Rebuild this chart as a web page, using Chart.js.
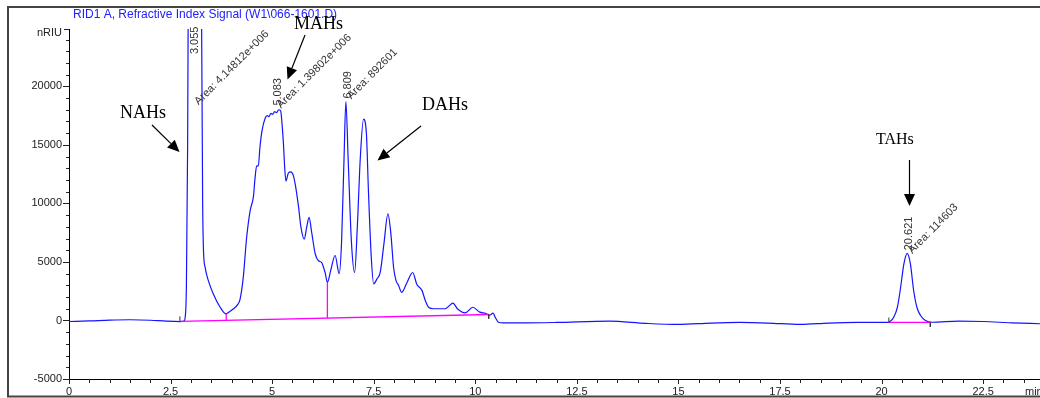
<!DOCTYPE html>
<html>
<head>
<meta charset="utf-8">
<script src="https://cdn.jsdelivr.net/npm/chart.js@4.4.1/dist/chart.umd.min.js"></script>
<style>
  html, body { margin: 0; padding: 0; background: #fff; }
  #wrap { width: 1040px; height: 398px; position: relative; }
</style>
</head>
<body>
<div id="wrap"><canvas id="chrom"></canvas></div>
<script>
// RID signal (min, nRIU)
const retentionTimes = [
  0.00, 0.5, 1.0, 1.5, 2.0, 2.4, 2.75, 2.83, 2.86, 2.89, 2.92, 2.95, 3.00, 3.055,
  3.12, 3.20, 3.26, 3.29, 3.31, 3.35, 3.43, 3.55, 3.72, 3.86, 3.95, 4.05, 4.15, 4.21,
  4.29, 4.37, 4.46, 4.54, 4.58, 4.62, 4.66, 4.70, 4.75, 4.83, 4.88, 4.92, 4.97, 5.01,
  5.06, 5.11, 5.16, 5.21, 5.25, 5.28, 5.31, 5.34, 5.40, 5.46, 5.52, 5.57, 5.65, 5.71,
  5.79, 5.85, 5.91, 5.97, 6.06, 6.14, 6.22, 6.31, 6.36, 6.44, 6.55, 6.65, 6.71, 6.77,
  6.815, 6.87, 6.95, 7.03, 7.10, 7.17, 7.25, 7.32, 7.37, 7.44, 7.50, 7.58, 7.66, 7.75,
  7.85, 7.92, 7.99, 8.05, 8.11, 8.19, 8.32, 8.46, 8.56, 8.69, 8.77, 8.85, 8.97, 9.26,
  9.34, 9.45, 9.56, 9.75, 9.94, 10.11, 10.25, 10.35, 10.44, 10.49, 10.57, 10.70, 11.1, 12.0,
  13.3, 14.2, 15.0, 15.8, 16.5, 17.2, 18.0, 18.7, 19.4, 20.15, 20.22, 20.30, 20.39, 20.47,
  20.55, 20.63, 20.71, 20.79, 20.87, 20.96, 21.08, 21.25, 21.9, 22.5, 23.2, 23.9
];
const signal = [
  -90, -40, 30, 60, 20, -60, -90, -60, 300, 3000, 15000, 40000, 100000, 140000,
  100000, 55000, 28000, 10000, 6000, 4550, 3400, 2280, 1130, 570, 750, 1000, 1350, 1800,
  3700, 7000, 9400, 10600, 12200, 13200, 13200, 14800, 16200, 17300, 17500, 17400, 17700, 17600,
  17850, 17750, 18000, 17900, 16500, 15000, 13000, 11900, 12600, 12700, 12400, 11600, 9700, 7950,
  6950, 7950, 8800, 7600, 5700, 5100, 4950, 4000, 3250, 4250, 5550, 4000, 6800, 13900,
  18700, 13900, 6800, 4100, 8250, 13900, 17200, 16000, 11100, 5400, 3130, 3550, 4100, 6500,
  9100, 7500, 4500, 3400, 3000, 2400, 3250, 4100, 3100, 2550, 1700, 1130, 1000, 1000,
  1200, 1480, 1000, 650, 1130, 710, 620, 450, 620, 280, -150, -200, -210, -170,
  -60, -250, -340, -220, -170, -220, -340, -220, -170, -170, -50, 280, 1130, 2840,
  4830, 5740, 4830, 2560, 1130, 430, 0, -150, -60, -90, -200, -280
];

// integration baselines and drop lines
const baseline1 = [[2.73, -85], [10.33, 510]];
const baseline2 = [[20.18, -170], [21.2, -170]];
const dropLine1 = [[3.87, 4], [3.87, 570]];
const dropLine2 = [[6.36, 200], [6.36, 3250]];
// peak start/end markers
const markerTimes = [2.73, 10.33, 20.18, 21.2];
const markerFrom = [-85, 510, -170, -170];
const markerTo = [350, 150, 250, -550];

// peak annotations
const peakTimes = [3.055, 5.083, 6.809, 20.621];
const peakAreas = ['4.14812e+006', '1.39802e+006', '892601', '114603'];
const timeLabelLevel = [22500, 18100, 18700, 5740];
const areaLabelLevel = [18300, 18000, 18800, 5600];

const xTicks = [0, 2.5, 5, 7.5, 10, 12.5, 15, 17.5, 20, 22.5];
const yTicks = [-5000, 0, 5000, 10000, 15000, 20000];

function pts(arr) { return arr.map(p => ({x: p[0], y: p[1]})); }

const traceData = retentionTimes.map((t, i) => ({x: t, y: signal[i]}));

const datasets = [
  {data: pts(baseline1), borderColor: '#ff00ff', borderWidth: 1.3, order: 1},
  {data: pts(baseline2), borderColor: '#ff00ff', borderWidth: 1.3, order: 1},
  {data: pts(dropLine1), borderColor: '#ff00ff', borderWidth: 1.3, order: 1},
  {data: pts(dropLine2), borderColor: '#ff00ff', borderWidth: 1.3, order: 1},
  {data: traceData, borderColor: '#1414ff', borderWidth: 1.2, cubicInterpolationMode: 'monotone', order: 2}
];
markerTimes.forEach((t, i) => {
  datasets.push({data: [{x: t, y: markerFrom[i]}, {x: t, y: markerTo[i]}],
    borderColor: '#333', borderWidth: 1, order: 0});
});

function arrow(ctx, x1, y1, x2, y2) {
  const a = Math.atan2(y2 - y1, x2 - x1);
  const L = 12, W = 5.5;
  const bx = x2 - L * Math.cos(a), by = y2 - L * Math.sin(a);
  ctx.beginPath();
  ctx.moveTo(x1, y1);
  ctx.lineTo(bx, by);
  ctx.stroke();
  ctx.beginPath();
  ctx.moveTo(x2, y2);
  ctx.lineTo(bx + W * Math.sin(a), by - W * Math.cos(a));
  ctx.lineTo(bx - W * Math.sin(a), by + W * Math.cos(a));
  ctx.closePath();
  ctx.fill();
}

const decorations = {
  id: 'decorations',
  afterDraw(chart) {
    const ctx = chart.ctx;
    const xs = chart.scales.x, ys = chart.scales.y;
    const area = chart.chartArea;
    ctx.save();

    // outer frame
    ctx.strokeStyle = '#444';
    ctx.lineWidth = 2;
    ctx.strokeRect(8, 7, 1100, 389.5);

    // title
    ctx.font = '12px "Liberation Sans", Arial, sans-serif';
    ctx.fillStyle = '#2020ff';
    ctx.textAlign = 'left';
    ctx.textBaseline = 'middle';
    ctx.fillText('RID1 A, Refractive Index Signal (W1\\066-1601.D)', 73, 14.5);

    // axis tick marks (major + minor)
    ctx.strokeStyle = '#222';
    ctx.lineWidth = 1;
    ctx.beginPath();
    for (let v = -5000; v <= 24000; v += 1000) {
      const py = Math.round(ys.getPixelForValue(v)) + 0.5;
      const len = v % 5000 === 0 ? 6 : 3;
      ctx.moveTo(area.left - len, py);
      ctx.lineTo(area.left, py);
    }
    const topY = Math.round(area.top) + 0.5;
    ctx.moveTo(area.left - 5, topY);
    ctx.lineTo(area.left, topY);
    for (let v = 0; v <= 23.5; v += 0.5) {
      const px = Math.round(xs.getPixelForValue(v)) + 0.5;
      const len = (v % 2.5) === 0 ? 5 : 4;
      ctx.moveTo(px, area.bottom);
      ctx.lineTo(px, area.bottom + len);
    }
    ctx.stroke();

    ctx.font = '11px "Liberation Sans", Arial, sans-serif';
    ctx.fillStyle = '#222';
    ctx.textAlign = 'right';
    ctx.fillText('nRIU', area.left - 7, area.top + 4);
    ctx.textAlign = 'left';
    ctx.fillText('min', 1025, 391.5);

    // peak labels
    ctx.fillStyle = '#333';
    peakTimes.forEach((t, i) => {
      const cx = xs.getPixelForValue(t) + 2;
      const by = ys.getPixelForValue(timeLabelLevel[i]) - 3;
      ctx.save();
      ctx.translate(cx, by);
      ctx.rotate(-Math.PI / 2);
      ctx.textAlign = 'left';
      ctx.textBaseline = 'middle';
      ctx.fillText(t.toFixed(3), 0, 0);
      ctx.restore();
      const ay = ys.getPixelForValue(areaLabelLevel[i]) - 1;
      ctx.save();
      ctx.translate(cx + 3.5, ay);
      ctx.rotate(-Math.PI / 4);
      ctx.textAlign = 'left';
      ctx.textBaseline = 'alphabetic';
      ctx.fillText('Area: ' + peakAreas[i], 0, 0);
      ctx.restore();
    });

    // hand-drawn group annotations
    ctx.fillStyle = '#000';
    ctx.strokeStyle = '#000';
    ctx.lineWidth = 1.2;
    ctx.font = '18px "Liberation Serif", "Times New Roman", serif';
    ctx.textAlign = 'left';
    ctx.textBaseline = 'alphabetic';
    ctx.fillText('NAHs', 120, 118);
    ctx.fillText('MAHs', 294, 28.5);
    ctx.fillText('DAHs', 422, 109.5);
    ctx.font = '16px "Liberation Serif", "Times New Roman", serif';
    ctx.fillText('TAHs', 876, 143.5);
    arrow(ctx, 152, 125, 179.5, 152);
    arrow(ctx, 305, 35, 287.5, 79.5);
    arrow(ctx, 421, 126, 377.5, 160.5);
    arrow(ctx, 909.5, 160, 909.5, 206);

    ctx.restore();
  }
};

new Chart(document.getElementById('chrom'), {
  type: 'line',
  data: {datasets},
  options: {
    responsive: true,
    maintainAspectRatio: false,
    animation: false,
    elements: {point: {radius: 0}, line: {tension: 0}},
    layout: {padding: {top: 29, right: 0, left: 0, bottom: 0}},
    plugins: {legend: {display: false}, tooltip: {enabled: false}},
    scales: {
      x: {
        type: 'linear',
        min: 0,
        max: 23.9,
        afterFit: s => { s.height = 19; },
        afterBuildTicks: s => { s.ticks = xTicks.map(v => ({value: v})); },
        grid: {display: false, drawTicks: false},
        border: {display: true, color: '#000', width: 1},
        ticks: {
          padding: 6, maxRotation: 0, autoSkip: false, color: '#222',
          font: {family: '"Liberation Sans", Arial, sans-serif', size: 11},
          callback: v => String(v)
        }
      },
      y: {
        type: 'linear',
        min: -5000,
        max: 24900,
        afterFit: s => { s.width = 69; },
        afterBuildTicks: s => { s.ticks = yTicks.map(v => ({value: v})); },
        grid: {display: false, drawTicks: false},
        border: {display: true, color: '#000', width: 1},
        ticks: {
          padding: 7, color: '#222',
          font: {family: '"Liberation Sans", Arial, sans-serif', size: 11},
          callback: v => String(v)
        }
      }
    }
  },
  plugins: [decorations]
});
</script>
</body>
</html>
